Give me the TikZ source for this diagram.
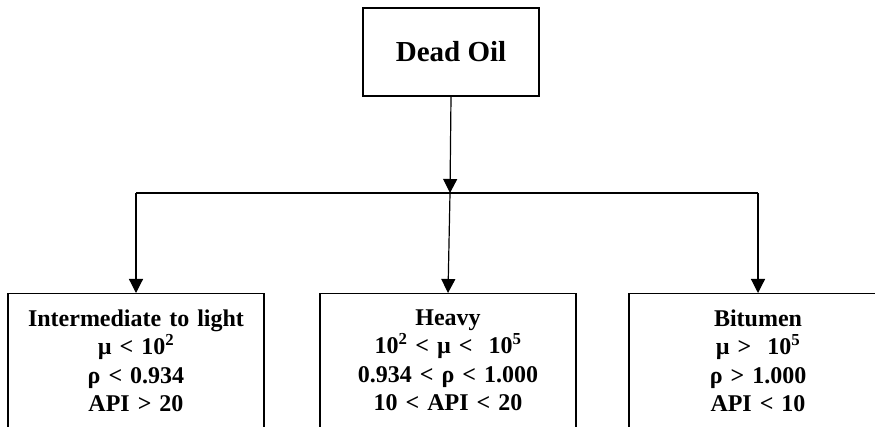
\documentclass[tikz,border=0pt]{standalone}
\usepackage{fontspec}
\setmainfont{Liberation Serif}
\usetikzlibrary{arrows.meta,positioning}

\begin{document}
\begin{tikzpicture}[x=1pt,y=-1pt,
        box/.style={draw, line width=1.2pt, font=\bfseries\fontsize{24}{28.5}\selectfont,
            align=center, text width=240pt, minimum width=256pt, anchor=north,
            inner xsep=0pt, inner ysep=16pt, text depth=150pt},
        tip/.style={-{Triangle[width=14pt,length=14pt]}, line width=1.2pt}]
        % the frame of the picture
        \clip (0,0) rectangle (875,427);

        % the boxes
        \node[draw, line width=1.2pt, font=\bfseries\fontsize{29}{32}\selectfont,
            minimum width=176pt, minimum height=88pt] (dead) at (451,52) {Dead Oil};
        \node[box] (light) at (136,293) {Intermediate to light\\ µ < 10\textsuperscript{2}\\ ρ < 0.934\\ API > 20};
        \node[box] (heavy) at (448,293) {Heavy\\ 10\textsuperscript{2} < µ < ~10\textsuperscript{5}\\ 0.934 < ρ < 1.000\\ 10 < API < 20};
        \node[box, minimum width=258pt] (bitumen) at (758,293) {Bitumen\\ µ > ~10\textsuperscript{5}\\ ρ > 1.000\\ API < 10};

        % the branch points (just coordinates to hang the arrows on)
        \coordinate (split) at (450,193);
        \coordinate (jl) at (136,193);
        \coordinate (jr) at (758,193);

        % draw the arrows
        \draw[tip] (dead.south) -- (split);
        \draw[line width=1.2pt] (jl) -- (jr);
        \draw[tip] (jl) -- (light.north);
        \draw[tip] (split) -- (heavy.north);
        \draw[tip] (jr) -- (bitumen.north);
    \end{tikzpicture}
\end{document}
